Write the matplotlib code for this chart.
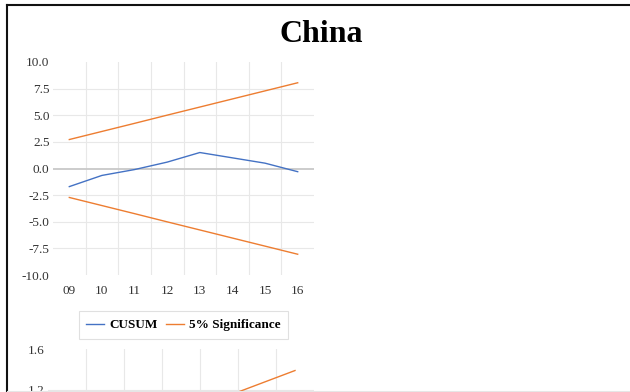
import matplotlib
matplotlib.use("Agg")
import matplotlib.pyplot as plt
from matplotlib.lines import Line2D

plt.rcParams['font.family'] = ['Liberation Serif', 'DejaVu Serif']

# CUSUM test, 2009-2016
years = ['09', '10', '11', '12', '13', '14', '15', '16']
cusum = [-1.7, -0.65, -0.1, 0.6, 1.5, 1.0, 0.5, -0.3]
cusum_upper = [2.72, 3.48, 4.24, 5.01, 5.77, 6.53, 7.29, 8.05]
cusum_lower = [-2.72, -3.48, -4.24, -5.01, -5.77, -6.53, -7.29, -8.05]
cusum_ticks = [-10.0, -7.5, -5.0, -2.5, 0.0, 2.5, 5.0, 7.5, 10.0]

# CUSUM of squares, 2010-2016 (upper bound)
sq_years = ['10', '11', '12', '13', '14', '15', '16']
sq_upper = [0.56, 0.70, 0.83, 0.97, 1.11, 1.25, 1.39]
sq_ticks = [1.2, 1.6]

BLUE = '#4472C4'
ORANGE = '#ED7D31'
GRID = '#e8e8e8'
TICK = '#333333'

W, H = 630, 392


def px_axes(fig, left, top, right, bottom):
    return fig.add_axes([left / W, 1 - bottom / H, (right - left) / W, (bottom - top) / H])


def style_axes(ax, n, ticks, ylim):
    for s in ax.spines.values():
        s.set_visible(False)
    ax.set_xlim(-0.5, n - 0.5)
    ax.set_ylim(*ylim)
    ax.set_yticks(ticks)
    ax.set_yticklabels([f"{t:.1f}" for t in ticks])
    ax.set_xticks(range(n))
    ax.set_xticks([i + 0.5 for i in range(n - 1)], minor=True)
    ax.tick_params(which='both', length=0, colors=TICK, labelsize=9.5)
    ax.tick_params(axis='y', pad=2.5)
    ax.tick_params(axis='x', pad=7)
    ax.grid(True, which='minor', axis='x', color=GRID, lw=0.8)
    ax.grid(True, which='major', axis='y', color=GRID, lw=0.8)
    ax.set_axisbelow(True)


fig = plt.figure(figsize=(6.3, 3.92), dpi=100)

# top panel: CUSUM
ax1 = px_axes(fig, 53, 62, 314, 275)
style_axes(ax1, len(years), cusum_ticks, (cusum_ticks[0], cusum_ticks[-1]))
ax1.set_xticklabels(years)
ygl = ax1.get_ygridlines()
ygl[0].set_visible(False)
ygl[-1].set_visible(False)
ygl[cusum_ticks.index(0.0)].set_color('#c8c8c8')
ygl[cusum_ticks.index(0.0)].set_linewidth(1.3)

x = range(len(years))
l1, = ax1.plot(x, cusum, color=BLUE, lw=1.0, label='CUSUM')
l2, = ax1.plot(x, cusum_upper, color=ORANGE, lw=1.0, label='5% Significance')
ax1.plot(x, cusum_lower, color=ORANGE, lw=1.0)

leg = ax1.legend(handles=[l1, l2], loc='center', ncol=2,
                 bbox_to_anchor=(183.5 / W, 1 - 325 / H), bbox_transform=fig.transFigure,
                 frameon=True, fancybox=False, edgecolor='#d9d9d9',
                 prop={'weight': 'bold', 'size': 9.5},
                 handlelength=1.35, handletextpad=0.4, columnspacing=0.6,
                 borderpad=0.6, borderaxespad=0)
leg.get_frame().set_linewidth(0.8)

# bottom panel: CUSUM of squares (only its top is in view)
ax2 = px_axes(fig, 48, 349, 314, 513)
style_axes(ax2, len(sq_years), sq_ticks, (0.0, 1.6))
ax2.tick_params(axis='x', labelbottom=False)
ax2.get_ygridlines()[-1].set_visible(False)
ax2.plot(range(len(sq_years)), sq_upper, color=ORANGE, lw=1.0)

fig.text(321 / W, 1 - 35 / H, 'China', ha='center', va='center',
         fontsize=23, fontweight='bold', color='black')

# panel frame
fig.add_artist(Line2D([7 / W, 7 / W], [1 - 4.5 / H, 0], transform=fig.transFigure,
                      color='#111111', lw=1.5))
fig.add_artist(Line2D([6.5 / W, 1], [1 - 4.5 / H, 1 - 4.5 / H], transform=fig.transFigure,
                      color='#111111', lw=1.5))
fig.add_artist(Line2D([7 / W, 1], [1 - 391 / H, 1 - 391 / H], transform=fig.transFigure,
                      color='#e6e6e6', lw=0.8))

fig.savefig('out.png', dpi=100)
